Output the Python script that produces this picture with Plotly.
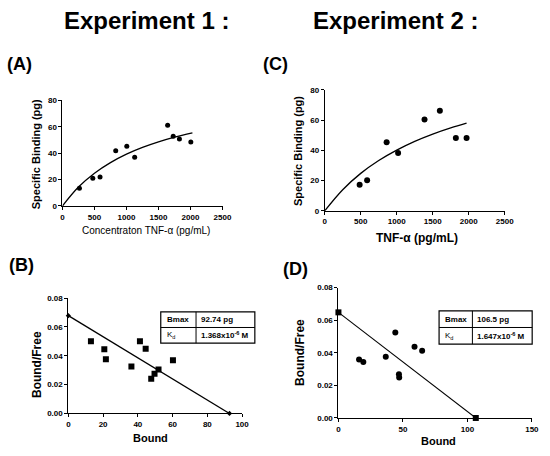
import plotly.graph_objects as go

# Experiment 1 - saturation binding (A)
a_conc = [265, 474, 587, 832, 1005, 1128, 1643, 1730, 1827, 2005]
a_bind = [13.4, 21.0, 22.0, 41.9, 45.3, 36.9, 61.2, 52.8, 50.8, 48.5]
a_fit_x = [0, 250, 500, 750, 1000, 1250, 1500, 1750, 2030]
a_fit_y = [0, 14.3, 24.8, 32.8, 39.2, 44.3, 48.5, 52.1, 55.4]

# Experiment 2 - saturation binding (C)
c_conc = [485, 589, 860, 1019, 1386, 1599, 1821, 1970]
c_bind = [17.3, 20.3, 45.4, 38.3, 60.5, 66.2, 48.2, 48.2]
c_fit_x = [0, 250, 500, 750, 1000, 1250, 1500, 1750, 1970]
c_fit_y = [0, 14.0, 24.8, 33.3, 40.2, 46.0, 50.8, 54.9, 58.0]

# Scatchard plots (B) and (D)
b_bound = [13.0, 20.7, 21.6, 36.3, 41.2, 44.5, 47.7, 49.6, 51.9, 60.2]
b_ratio = [0.0501, 0.0446, 0.0376, 0.0326, 0.0501, 0.0449, 0.0240, 0.0276, 0.0304, 0.0369]
b_line_x = [0, 92.74]
b_line_y = [0.0678, 0]

d_bound = [16.0, 19.3, 36.7, 44.1, 46.9, 47.1, 59.0, 64.9]
d_ratio = [0.0359, 0.0343, 0.0375, 0.0525, 0.0269, 0.0249, 0.0437, 0.0413]
d_line_x = [0, 106.5]
d_line_y = [0.0648, 0]

table_b = [["<b>Bmax</b>", "<b>92.74 pg</b>"], ["K<sub>d</sub>", "<b>1.368x10<sup>-6</sup> M</b>"]]
table_d = [["<b>Bmax</b>", "<b>106.5 pg</b>"], ["K<sub>d</sub>", "<b>1.647x10<sup>-6</sup> M</b>"]]

W, H = 550, 456
FONT = "Arial, Liberation Sans, sans-serif"


def px(x):
    return x / W


def py(y):
    return 1 - y / H


fig = go.Figure()

fig.add_trace(go.Scatter(x=a_conc, y=a_bind, mode="markers",
                         marker=dict(color="black", size=5), xaxis="x", yaxis="y"))
fig.add_trace(go.Scatter(x=a_fit_x, y=a_fit_y, mode="lines", line=dict(color="black", width=1.3, shape="spline"),
                         xaxis="x", yaxis="y"))

fig.add_trace(go.Scatter(x=c_conc, y=c_bind, mode="markers",
                         marker=dict(color="black", size=6), xaxis="x2", yaxis="y2"))
fig.add_trace(go.Scatter(x=c_fit_x, y=c_fit_y, mode="lines", line=dict(color="black", width=1.3, shape="spline"),
                         xaxis="x2", yaxis="y2"))

fig.add_trace(go.Scatter(x=b_bound, y=b_ratio, mode="markers",
                         marker=dict(color="black", size=6, symbol="square"), xaxis="x3", yaxis="y3"))
fig.add_trace(go.Scatter(x=b_line_x, y=b_line_y, mode="lines+markers", cliponaxis=False,
                         line=dict(color="black", width=1.3), marker=dict(color="black", size=4, symbol="diamond"),
                         xaxis="x3", yaxis="y3"))

fig.add_trace(go.Scatter(x=d_bound, y=d_ratio, mode="markers",
                         marker=dict(color="black", size=6), xaxis="x4", yaxis="y4"))
fig.add_trace(go.Scatter(x=d_line_x, y=d_line_y, mode="lines+markers", cliponaxis=False,
                         line=dict(color="black", width=1.1), marker=dict(color="black", size=6, symbol="square"),
                         xaxis="x4", yaxis="y4"))


def ax(domain, rng, dtick, anchor, fmt=None):
    d = dict(domain=domain, range=rng, dtick=dtick, anchor=anchor, showgrid=False, zeroline=False,
             showline=True, linecolor="black", linewidth=1, ticks="outside", ticklen=3,
             tickcolor="black", tickfont=dict(size=8, color="black", family=FONT, weight="bold"))
    if fmt:
        d["tickformat"] = fmt
    return d


fig.update_layout(
    width=W, height=H, margin=dict(l=0, r=0, t=0, b=0),
    paper_bgcolor="white", plot_bgcolor="white", showlegend=False,
    font=dict(family=FONT, color="black"),
    xaxis=ax([px(61.7), px(225)], [0, 2500], 500, "y"),
    yaxis=ax([py(206), py(98.3)], [0, 80], 20, "x"),
    xaxis2=ax([px(329.3), px(513)], [0, 2500], 500, "y2"),
    yaxis2=ax([py(211), py(87.7)], [0, 80], 20, "x2"),
    xaxis3=ax([px(67.7), px(245)], [0, 100], 20, "y3"),
    yaxis3=ax([py(417.7), py(300)], [0, 0.08], 0.02, "x3", ".2f"),
    xaxis4=ax([px(343.3), px(540.7)], [0, 150], 50, "y4"),
    yaxis4=ax([py(422.3), py(289.3)], [0, 0.08], 0.02, "x4", ".2f"),
)

notes = [
    ("<b>Experiment 1 :</b>", 147, 17, 24, 0),
    ("<b>Experiment 2 :</b>", 402, 17, 24, 0),
    ("<b>(A)</b>", 18, 61, 18, 0),
    ("<b>(C)</b>", 279, 61, 18, 0),
    ("<b>(B)</b>", 20, 266, 18, 0),
    ("<b>(D)</b>", 299, 270, 18, 0),
    ("Concentraton TNF-α (pg/mL)", 147, 231, 10, 0),
    ("<b>Specific Binding (pg)</b>", 35, 153, 11, -90),
    ("<b>TNF-α (pg/mL)</b>", 423, 239, 12, 0),
    ("<b>Specific Binding (pg)</b>", 302, 150, 11, -90),
    ("<b>Bound/Free</b>", 35, 368, 12, -90),
    ("<b>Bound</b>", 152, 443, 11, 0),
    ("<b>Bound/Free</b>", 304, 355, 12, -90),
    ("<b>Bound</b>", 445, 446, 11, 0),
]
for text, x, y, size, angle in notes:
    fig.add_annotation(text=text, x=px(x), y=py(y), xref="paper", yref="paper", showarrow=False,
                       xanchor="center", yanchor="middle", textangle=angle,
                       font=dict(size=size, color="black", family=FONT))


def add_table(rows, x0, x1, xm, y0, y1, ym):
    fig.add_shape(type="rect", xref="paper", yref="paper", x0=px(x0), x1=px(x1), y0=py(y1), y1=py(y0),
                  line=dict(color="black", width=1.2), fillcolor="white")
    fig.add_shape(type="line", xref="paper", yref="paper", x0=px(xm), x1=px(xm), y0=py(y1), y1=py(y0),
                  line=dict(color="black", width=1))
    fig.add_shape(type="line", xref="paper", yref="paper", x0=px(x0), x1=px(x1), y0=py(ym), y1=py(ym),
                  line=dict(color="black", width=1))
    centers = [(y0 + ym) / 2, (ym + y1) / 2]
    for (left, right), yc in zip(rows, centers):
        fig.add_annotation(text=left, x=px(x0 + 4), y=py(yc), xref="paper", yref="paper", showarrow=False,
                           xanchor="left", yanchor="middle", font=dict(size=8, color="black", family=FONT))
        fig.add_annotation(text=right, x=px(xm + 3), y=py(yc), xref="paper", yref="paper", showarrow=False,
                           xanchor="left", yanchor="middle", font=dict(size=8, color="black", family=FONT))


add_table(table_b, 162, 258, 198, 314, 346, 330)
add_table(table_d, 446, 541, 480, 313, 347, 330)

# drop the default page margin so the figure sits at the window's corner
fig.write_html("out.html", config={"displayModeBar": False},
               post_script="document.body.style.margin='0';")
